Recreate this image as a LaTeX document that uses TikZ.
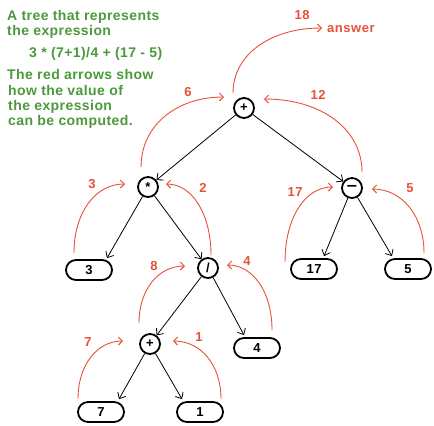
\documentclass[tikz,border=0pt]{standalone}
\usepackage{fontspec}
\setmainfont{Liberation Sans}
\usetikzlibrary{arrows.meta,calc}
\definecolor{rd}{RGB}{232,80,56}
\definecolor{gr}{RGB}{76,153,60}
\begin{document}
\begin{tikzpicture}[x=1bp,y=-1bp,
  op/.style={circle,draw,line width=1.8bp,minimum size=20bp,inner sep=0pt,
    font=\bfseries\fontsize{13bp}{13bp}\selectfont},
  leaf/.style={rectangle,rounded corners=10bp,draw,line width=1.8bp,
    minimum width=46bp,minimum height=20bp,inner sep=0pt,
    font=\bfseries\fontsize{13bp}{13bp}\selectfont\addfontfeature{LetterSpace=4}},
  edge/.style={line width=0.8bp,-{Straight Barb[length=5bp,width=9bp]}},
  flow/.style={rd,line width=0.9bp,-{Straight Barb[length=4bp,width=8bp]}},
  num/.style={rd,inner sep=0pt,
    font=\bfseries\fontsize{13bp}{13bp}\selectfont\addfontfeature{LetterSpace=4}},
  note/.style={gr,inner sep=0pt,anchor=base west,
    font=\bfseries\fontsize{14bp}{14bp}\selectfont\addfontfeature{LetterSpace=3}}]
\useasboundingbox (0,0) rectangle (434,425);

% explanation text
\node[note] (n1) at (7,20) {A tree that represents};
\node[note] (n2) at (7,35) {the expression};
\node[note] (n3) at (29,57) {3 * (7+1)/4 + (17 - 5)};
\node[note] (n4) at (7,79) {The red arrows show};
\node[note] (n5) at (8,95) {how the value of};
\node[note] (n6) at (8,110) {the expression};
\node[note] (n7) at (8,125) {can be computed.};

% tree nodes
\node[op] (root) at (244,108) {+};
\node[op] (mul) at (148,187) {\raisebox{-3bp}{*}};
\node[op] (div) at (208,268) {/};
\node[op] (sub) at (352,188) {\scalebox{1.4}[1.2]{−}};
\node[op] (add) at (150,344) {+};
\node[leaf] (l3) at (89,270) {3};
\node[leaf] (l4) at (257,348) {4};
\node[leaf] (l7) at (101,412) {7};
\node[leaf] (l1) at (200,412) {1};
\node[leaf] (l17) at (314,269) {17};
\node[leaf] (l5) at (408,269) {5};
\node[num,anchor=base west] (ans) at (327,32) {answer};

% tree edges
\coordinate (t3) at ($(l3.north)+(18,-1)$);
\coordinate (t4) at ($(l4.north)+(-13,-2)$);
\coordinate (t7) at ($(l7.north)+(18,-2)$);
\coordinate (t1) at ($(l1.north)+(-18,-2)$);
\coordinate (t17) at ($(l17.north)+(10,-2)$);
\coordinate (t5) at ($(l5.north)+(-16,-2)$);
\draw[edge] (root) -- (mul);
\draw[edge] (root) -- (sub);
\draw[edge] (mul) -- (t3);
\draw[edge] (mul) -- (div);
\draw[edge] (div) -- (add);
\draw[edge] (div) -- (t4);
\draw[edge] (add) -- (t7);
\draw[edge] (add) -- (t1);
\draw[edge] (sub) -- (t17);
\draw[edge] (sub) -- (t5);

% evaluation arrows
\coordinate (s18) at ($(root)+(-11,-15)$);
\coordinate (e18) at ($(ans.base west)+(-5,-4)$);
\coordinate (s6) at ($(mul)+(-7,-20)$);
\coordinate (e6) at ($(root)+(-20,-11)$);
\coordinate (s12) at ($(sub)+(10,-16)$);
\coordinate (e12) at ($(root)+(20,-9)$);
\coordinate (s3) at ($(l3)+(-15,-17)$);
\coordinate (e3) at ($(mul)+(-23,-3)$);
\coordinate (s2) at ($(div)+(3,-13)$);
\coordinate (e2) at ($(mul)+(18,-3)$);
\coordinate (s8) at ($(add)+(-11,-21)$);
\coordinate (e8) at ($(div)+(-23,-2)$);
\coordinate (s4) at ($(l4)+(15,-18)$);
\coordinate (e4) at ($(div)+(19,-3)$);
\coordinate (s7) at ($(l7)+(-23,-13)$);
\coordinate (e7) at ($(add)+(-27,-3)$);
\coordinate (s1) at ($(l1)+(21,-13)$);
\coordinate (e1) at ($(add)+(23,-3)$);
\coordinate (s17) at ($(l17)+(-29,-7)$);
\coordinate (e17) at ($(sub)+(-19,-1)$);
\coordinate (s5) at ($(l5)+(16,-16)$);
\coordinate (e5) at ($(sub)+(20,1)$);

\draw[flow] (s18) .. controls +(0,-38) and +(-52,0) .. (e18);
\draw[flow] (s6) .. controls +(0,-41) and +(-48,0) .. (e6);
\draw[flow] (s12) .. controls +(0,-43) and +(57,0) .. (e12);
\draw[flow] (s3) .. controls +(0,-40) and +(-30,0) .. (e3);
\draw[flow] (s2) .. controls +(0,-41) and +(26,0) .. (e2);
\draw[flow] (s8) .. controls +(0,-33) and +(-27,0) .. (e8);
\draw[flow] (s4) .. controls +(0,-38) and +(26,0) .. (e4);
\draw[flow] (s7) .. controls +(0,-34) and +(-26,0) .. (e7);
\draw[flow] (s1) .. controls +(0,-34) and +(28,0) .. (e1);
\draw[flow] (s17) .. controls +(0,-44) and +(-28,0) .. (e17);
\draw[flow] (s5) .. controls +(0,-37) and +(30,0) .. (e5);

% step labels
\node[num] (k18) at (302,15) {18};
\node[num] (k6) at (188,92) {6};
\node[num] (k12) at (318,95) {12};
\node[num] (k3) at (92,184) {3};
\node[num] (k2) at (203,188) {2};
\node[num] (k8) at (154,266) {8};
\node[num] (k4) at (247,261) {4};
\node[num] (k7) at (88,342) {7};
\node[num] (k1) at (199,337) {1};
\node[num] (k17) at (295,192) {17};
\node[num] (k5) at (410,188) {5};
\end{tikzpicture}
\end{document}
